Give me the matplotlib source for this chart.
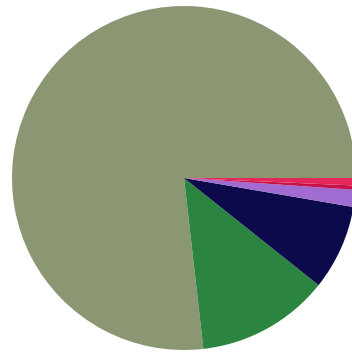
import matplotlib
matplotlib.use("Agg")
import matplotlib.pyplot as plt

labels = ["Olive", "Green", "Navy", "Purple", "Crimson", "Red"]
values = [76.8, 12.5, 8.0, 1.6, 0.4, 0.7]
colors = ["#8b9673", "#2b8541", "#0d0a4b", "#a06cd2", "#c8124c", "#e4275a"]

fig = plt.figure(figsize=(3.52, 3.54), dpi=100)
ax = fig.add_axes([12 / 352, 4 / 354, 344 / 352, 344 / 354])
ax.pie(values, colors=colors, startangle=0, counterclock=True,
       wedgeprops={"linewidth": 0})
ax.set_xlim(-1, 1)
ax.set_ylim(-1, 1)
ax.set_aspect("equal")
ax.axis("off")

fig.savefig("out.png", dpi=100)
